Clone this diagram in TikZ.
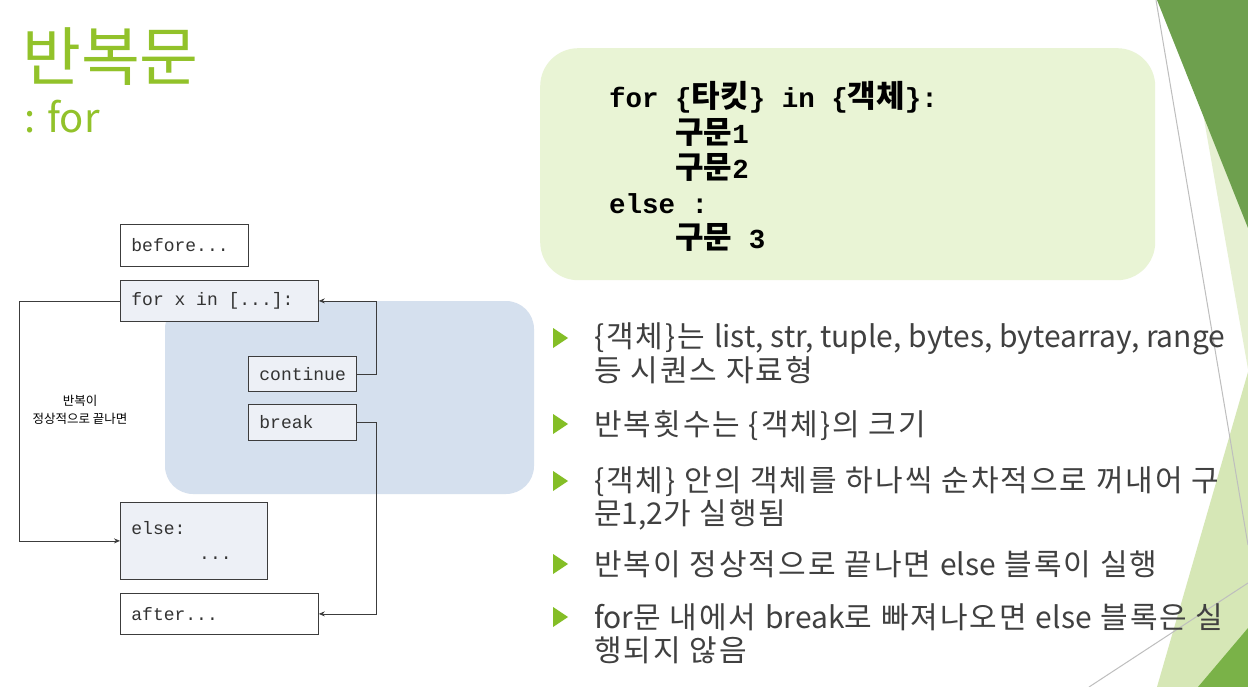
\documentclass[tikz,border=0pt]{standalone}
\usepackage{fontspec}
\setmainfont{Noto Sans CJK KR}[LetterSpace=6.7]
\newfontfamily\latinfont{Noto Sans CJK KR}
\setmonofont{Liberation Mono}
\usetikzlibrary{arrows.meta}

\definecolor{titlegreen}{RGB}{146,194,42}
\definecolor{bulletgreen}{RGB}{132,190,38}
\definecolor{codebg}{RGB}{233,244,213}
\definecolor{loopblue}{RGB}{213,224,238}
\definecolor{boxshade}{RGB}{237,240,246}
\definecolor{flowline}{RGB}{60,60,60}
\definecolor{bodygrey}{RGB}{64,64,64}
\definecolor{darkleaf}{RGB}{110,160,78}
\definecolor{paleleaf}{RGB}{230,240,210}
\definecolor{lightleaf}{RGB}{214,231,182}
\definecolor{midleaf}{RGB}{122,178,72}
\definecolor{edgegrey}{RGB}{190,190,190}

\newcommand\kr[1]{{\fontsize{31}{35.3}\selectfont\latinfont\bfseries #1}}
\newcommand\en[1]{{\latinfont #1}}

\tikzset{
  monospaces/.style={execute at begin node={\spaceskip=0pt\xspaceskip=0pt\relax}},
  flowbox/.style={draw=flowline, line width=0.8pt, anchor=north west, inner xsep=11pt,
    inner ysep=0pt, align=left, monospaces, text=black!80, font=\fontsize{18}{25}\selectfont\ttfamily},
  bullettext/.style={anchor=base west, inner sep=0pt, align=left, text=bodygrey,
    font=\fontsize{30}{32.5}\selectfont}
}

\begin{document}
\begin{tikzpicture}[x=1pt, y=-1pt, >={Stealth[length=6pt, width=5pt]}]
  \useasboundingbox[fill=white] (0,0) rectangle (1248,687);

  % Corner decoration
  \fill[paleleaf] (1183,0) -- (1248,0) -- (1248,369) -- cycle;
  \fill[darkleaf] (1157,0) -- (1248,0) -- (1248,228) -- cycle;
  \fill[lightleaf] (1248,372) -- (1248,687) -- (1157,687) -- cycle;
  \fill[midleaf] (1248,628) -- (1248,687) -- (1198,687) -- cycle;
  \draw[edgegrey, line width=1pt] (1156,0) -- (1248,545);
  \draw[edgegrey, line width=1pt] (1089,687) -- (1248,583);

  % Title
  \node[anchor=base west, inner sep=0pt, text=titlegreen, font=\fontsize{64}{70}\selectfont\latinfont] (title) at (22,81) {반복문};
  \node[anchor=base west, inner sep=0pt, text=titlegreen, font=\fontsize{40}{48}\selectfont\latinfont] (subtitle) at (24,133) {: for};

  % Syntax box
  \node[anchor=north west, fill=codebg, rounded corners=38pt, minimum width=615pt, minimum height=232pt] (codebox) at (540,48) {};
  \node[anchor=base west, inner sep=0pt, align=left, monospaces, font=\fontsize{27.5}{35.3}\selectfont\ttfamily\bfseries] (code) at (609,249)
    {for \{\kr{타킷}\} in \{\kr{객체}\}:\\
     ~~~~\kr{구문}1\\
     ~~~~\kr{구문}2\\
     else :\\
     ~~~~\kr{구문} 3};

  % Loop body region
  \fill[loopblue, rounded corners=28pt] (165,301) rectangle (534,494);

  % Flow boxes
  \node[flowbox, fill=white, text width=106pt, minimum height=42pt] (before) at (120,224) {before...};
  \node[flowbox, fill=boxshade, text width=176pt, minimum height=41pt] (forbox) at (120,280) {for x in [...]:};
  \node[flowbox, fill=boxshade, text width=86pt, minimum height=35pt] (cont) at (248,356) {continue};
  \node[flowbox, fill=boxshade, text width=86pt, minimum height=36pt] (brk) at (248,404) {break};
  \node[flowbox, fill=boxshade, text width=125pt, minimum height=77pt] (elsebox) at (120,502) {else:\\~~~~~~\hspace{3pt}...};
  \node[flowbox, fill=white, text width=176pt, minimum height=41pt] (after) at (120,593) {after...};

  % Connectors
  \draw[->, flowline, line width=0.8pt] (cont.east) -- ++(20,0) |- (forbox.east);
  \draw[->, flowline, line width=0.8pt] (brk.east) -- ++(20,0) |- (after.east);
  \draw[->, flowline, line width=0.8pt] (forbox.west) -- ++(-101,0) |- (elsebox.west);
  \node[align=center, inner sep=0pt, font=\fontsize{12.5}{18}\selectfont\latinfont] (loopnote) at (80,410) {반복이\\정상적으로 끝나면};

  % Bullets
  \foreach \y in {349,435,492,575,628}
    \fill[bulletgreen] (553,\y-21) -- (553,\y-1) -- (568,\y-11) -- cycle;
  \node[bullettext] (itemseq) at (594,381) {\{객체\}는 \en{list, str, tuple, bytes, bytearray, range}\\등 시퀀스 자료형};
  \node[bullettext] (itemcount) at (594,435) {반복횟수는 \{객체\}의 크기};
  \node[bullettext] (itemorder) at (594,524) {\{객체\} 안의 객체를 하나씩 순차적으로 꺼내어 구\\문\en{1,2}가 실행됨};
  \node[bullettext] (itemelse) at (594,575) {반복이 정상적으로 끝나면 \en{else} 블록이 실행};
  \node[bullettext] (itembreak) at (594,661) {\en{for}문 내에서 \en{break}로 빠져나오면 \en{else} 블록은 실\\행되지 않음};
\end{tikzpicture}
\end{document}
